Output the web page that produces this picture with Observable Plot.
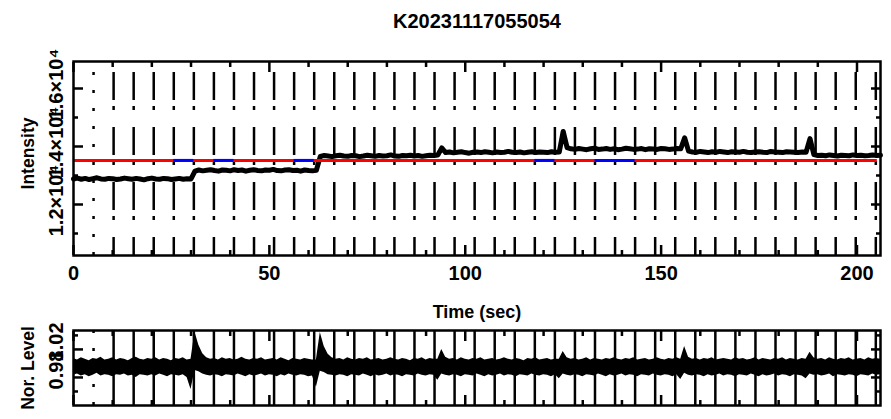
<!DOCTYPE html>
<html><head><meta charset="utf-8">
<script src="https://cdn.jsdelivr.net/npm/d3@7"></script>
<script src="https://cdn.jsdelivr.net/npm/@observablehq/plot@0.6"></script>
<style>
body{margin:0;background:#fff;}
#wrap{position:relative;width:891px;height:419px;overflow:hidden;}
#top,#bot{position:absolute;left:0;}
#top{top:0;} #bot{top:325px;}
svg{overflow:visible;}
</style></head><body><div id="wrap"><div id="top"></div><div id="bot"></div></div>
<script>
const title = "K20231117055054";
const xLabel = "Time (sec)";
const yLabelTop = "Intensity";
const yLabelBot = "Nor. Level";
const xTickLabels = [0, 50, 100, 150, 200];
const xMinorTicks = [10,20,30,40,60,70,80,90,110,120,130,140,160,170,180,190];
const yMajorTop = [12000, 14000, 16000];
const yMinorTop = [11000, 13000, 15000];
const yTopLabels = ["1.2×10⁴", "1.4×10⁴", "1.6×10⁴"];
const yMajorBot = [0.98, 1.02];
const yMinorBot = [0.96, 1.00, 1.04];
const yBotLabels = ["0.98", "1.02"];
const threshold = 13520;
const thresholdEnd = 205.2;
const blueStart = [25.6, 35.84, 56.32, 117.76, 133.12];
const blueEnd = [30.72, 40.96, 61.44, 122.88, 143.36];
const gridDotted = [5.12];
const gridTimes = [10.24,15.36,20.48,25.6,30.72,35.84,40.96,46.08,51.2,56.32,61.44,66.56,71.68,76.8,81.92,87.04,92.16,97.28,102.4,107.52,112.64,117.76,122.88,128,133.12,138.24,143.36,148.48,153.6,158.72,163.84,168.96,174.08,179.2,184.32,189.44,194.56,199.68,204.8];
const sampleStep = 1; // seconds between samples
const intensity = [
12880,12910,12870,12900,12860,12890,12920,12880,12870,12900,12890,12860,12880,12910,12890,12870,12900,12880,12850,12890,12910,12880,12870,12900,12890,12860,12880,12900,12870,12890,12880,
13150,13190,13160,13180,13200,13170,13150,13190,13180,13160,13200,13170,13190,13150,13180,13200,13170,13160,13190,13180,13210,13170,13160,13190,13200,13170,13180,13150,13190,13170,13160,13180,
13660,13690,13670,13650,13680,13700,13670,13660,13690,13680,13650,13670,13700,13680,13660,13690,13670,13680,13710,13670,13660,13690,13680,13700,13670,13690,13660,13680,13700,13690,13710,
13950,13790,13810,13780,13800,13820,13790,13770,13800,13810,13790,13820,13800,13780,13810,13790,13800,13830,13800,13790,13810,13780,13800,13820,13790,13810,13800,13790,13820,13800,13810,
14520,13960,13920,13900,13930,13910,13890,13920,13940,13900,13910,13930,13900,13920,13890,13910,13940,13920,13900,13910,13930,13890,13920,13910,13900,13930,13920,13900,13910,13930,13920,
14300,13840,13810,13800,13830,13810,13790,13820,13800,13830,13810,13790,13820,13810,13800,13830,13800,13790,13810,13820,13800,13790,13830,13810,13800,13790,13820,13810,13800,13790,13810,13800,
14270,13720,13690,13700,13680,13710,13690,13670,13700,13690,13680,13710,13690,13700,13680,13690,13710,13690,13700];
const normUpper = [
1.007,1.005,1.008,1.006,1.004,1.007,1.006,1.009,1.005,1.006,
1.008,1.005,1.007,1.006,1.004,1.007,1.009,1.006,1.005,1.007,
1.006,1.008,1.005,1.007,1.006,1.004,1.007,1.006,1.008,1.005,
1.006,1.045,1.026,1.014,1.008,1.006,1.007,1.005,1.008,1.006,
1.007,1.005,1.006,1.009,1.006,1.005,1.007,1.006,1.008,1.005,
1.006,1.007,1.005,1.008,1.006,1.004,1.007,1.006,1.005,1.007,
1.006,1.005,1.005,1.044,1.024,1.013,1.008,1.006,1.007,1.005,
1.008,1.006,1.005,1.007,1.006,1.008,1.005,1.006,1.007,1.005,
1.006,1.008,1.006,1.005,1.007,1.006,1.004,1.007,1.006,1.008,
1.005,1.007,1.006,1.006,1.020,1.009,1.006,1.007,1.005,1.008,
1.006,1.005,1.007,1.006,1.008,1.005,1.006,1.007,1.005,1.006,
1.008,1.006,1.005,1.007,1.006,1.004,1.007,1.006,1.008,1.005,
1.006,1.007,1.005,1.006,1.006,1.017,1.008,1.006,1.007,1.005,
1.006,1.008,1.005,1.007,1.006,1.005,1.007,1.006,1.008,1.006,
1.005,1.007,1.006,1.008,1.005,1.006,1.007,1.005,1.006,1.008,
1.006,1.005,1.007,1.006,1.008,1.006,1.024,1.009,1.006,1.007,
1.005,1.007,1.006,1.008,1.005,1.006,1.007,1.006,1.005,1.008,
1.006,1.007,1.005,1.006,1.008,1.005,1.007,1.006,1.005,1.007,
1.006,1.008,1.005,1.007,1.006,1.005,1.007,1.006,1.016,1.008,
1.006,1.007,1.005,1.008,1.006,1.005,1.007,1.006,1.008,1.005,
1.006,1.007,1.005,1.008,1.006,1.007,1.006];
const normLower = [
0.983,0.985,0.982,0.984,0.981,0.983,0.986,0.982,0.984,0.983,
0.981,0.984,0.983,0.985,0.982,0.983,0.980,0.984,0.983,0.982,
0.984,0.982,0.985,0.983,0.981,0.984,0.983,0.982,0.984,0.980,
0.963,0.990,0.988,0.985,0.983,0.982,0.984,0.983,0.981,0.984,
0.983,0.982,0.985,0.983,0.981,0.984,0.982,0.983,0.985,0.982,
0.984,0.983,0.981,0.984,0.982,0.985,0.983,0.982,0.984,0.983,
0.981,0.982,0.966,0.989,0.987,0.984,0.983,0.982,0.984,0.983,
0.981,0.984,0.983,0.982,0.985,0.983,0.981,0.984,0.982,0.983,
0.985,0.982,0.984,0.983,0.981,0.984,0.983,0.982,0.985,0.983,
0.982,0.984,0.983,0.976,0.985,0.983,0.982,0.984,0.983,0.981,
0.984,0.983,0.982,0.985,0.983,0.981,0.984,0.982,0.983,0.985,
0.982,0.984,0.983,0.981,0.984,0.983,0.982,0.985,0.983,0.982,
0.984,0.983,0.981,0.984,0.978,0.985,0.983,0.982,0.984,0.983,
0.981,0.984,0.983,0.982,0.985,0.983,0.981,0.984,0.982,0.983,
0.985,0.982,0.984,0.983,0.981,0.984,0.983,0.982,0.985,0.983,
0.982,0.984,0.983,0.981,0.984,0.977,0.986,0.983,0.982,0.984,
0.983,0.981,0.984,0.982,0.983,0.985,0.982,0.984,0.983,0.981,
0.984,0.983,0.982,0.985,0.983,0.981,0.984,0.982,0.983,0.985,
0.982,0.984,0.983,0.981,0.984,0.983,0.982,0.978,0.985,0.983,
0.984,0.982,0.983,0.985,0.981,0.984,0.983,0.982,0.984,0.983,
0.981,0.984,0.983,0.982,0.985,0.983,0.984];

const topData = intensity.map((v, i) => ({t: i * sampleStep, v}));
const botData = normUpper.map((u, i) => ({t: i * sampleStep, u, l: normLower[i]}));
const blue = blueStart.map((s, i) => ({x1: s, x2: blueEnd[i], y: threshold}));
const font = "'Liberation Sans', Arial, Helvetica, sans-serif";
const LW = 2.5;
const blank = () => "";

const topPlot = Plot.plot({
  width: 891, height: 325, marginLeft: 73, marginRight: 11, marginTop: 61, marginBottom: 70,
  x: {domain: [0, 206]}, y: {domain: [10241, 16931]},
  style: {fontFamily: font, fontWeight: "bold", color: "black", background: "transparent", overflow: "visible"},
  marks: [
    Plot.ruleX(gridDotted, {stroke: "black", strokeWidth: LW, strokeDasharray: "3 15", strokeDashoffset: 7}),
    Plot.ruleX(gridTimes, {stroke: "black", strokeWidth: LW, strokeDasharray: "28 6 4 17", strokeDashoffset: 44}),
    Plot.line(topData, {x: "t", y: "v", stroke: "black", strokeWidth: 5}),
    Plot.ruleY([{x1: 0, x2: thresholdEnd, y: threshold}], {x1: "x1", x2: "x2", y: "y", stroke: "#ff0000", strokeWidth: 3}),
    Plot.ruleY(blue, {x1: "x1", x2: "x2", y: "y", stroke: "#0000ff", strokeWidth: 3}),
    Plot.frame({stroke: "black", strokeWidth: LW}),
    Plot.axisX({anchor: "bottom", ticks: xMinorTicks, tickSize: -5, tickFormat: blank, strokeWidth: LW, label: null}),
    Plot.axisX({anchor: "top", ticks: xMinorTicks, tickSize: -5, tickFormat: blank, strokeWidth: LW, label: null}),
    Plot.axisX({anchor: "bottom", ticks: xTickLabels, tickSize: -10, tickFormat: blank, strokeWidth: LW, label: null}),
    Plot.axisX({anchor: "top", ticks: xTickLabels, tickSize: -10, tickFormat: blank, strokeWidth: LW, label: null}),
    Plot.axisX({anchor: "bottom", ticks: xTickLabels, tickSize: 0, tickPadding: 10, fontSize: 20, label: null}),
    Plot.axisY({anchor: "left", ticks: yMajorTop, tickSize: -10, tickFormat: blank, strokeWidth: LW, label: null}),
    Plot.axisY({anchor: "left", ticks: yMinorTop, tickSize: -5, tickFormat: blank, strokeWidth: LW, label: null}),
    Plot.axisY({anchor: "right", ticks: yMajorTop, tickSize: -10, tickFormat: blank, strokeWidth: LW, label: null}),
    Plot.axisY({anchor: "right", ticks: yMinorTop, tickSize: -5, tickFormat: blank, strokeWidth: LW, label: null}),
    Plot.text(yMajorTop, {y: d => d, text: (d, i) => yTopLabels[i], frameAnchor: "left", rotate: -90, lineAnchor: "bottom", textAnchor: "middle", dx: -11, dy: -4, fontSize: 20}),
    Plot.text([yLabelTop], {frameAnchor: "left", rotate: -90, lineAnchor: "bottom", textAnchor: "middle", dx: -40, dy: -5, fontSize: 17.5}),
    Plot.text([title], {frameAnchor: "top", lineAnchor: "bottom", dy: -34, fontSize: 20}),
    Plot.text([xLabel], {frameAnchor: "bottom", lineAnchor: "bottom", dy: 62, fontSize: 18})
  ]
});
document.getElementById("top").appendChild(topPlot);

const botPlot = Plot.plot({
  width: 891, height: 94, marginLeft: 73, marginRight: 11, marginTop: 5, marginBottom: 14,
  x: {domain: [0, 206]}, y: {domain: [0.94, 1.047]},
  style: {fontFamily: font, fontWeight: "bold", color: "black", background: "transparent", overflow: "visible"},
  marks: [
    Plot.ruleX(gridDotted, {stroke: "black", strokeWidth: LW, strokeDasharray: "3 15", strokeDashoffset: 0}),
    Plot.ruleX(gridTimes, {stroke: "black", strokeWidth: LW}),
    Plot.areaY(botData, {x: "t", y1: "l", y2: "u", fill: "black"}),
    Plot.frame({stroke: "black", strokeWidth: LW}),
    Plot.axisX({anchor: "bottom", ticks: xMinorTicks, tickSize: -5, tickFormat: blank, strokeWidth: LW, label: null}),
    Plot.axisX({anchor: "top", ticks: xMinorTicks, tickSize: -5, tickFormat: blank, strokeWidth: LW, label: null}),
    Plot.axisX({anchor: "bottom", ticks: xTickLabels, tickSize: -10, tickFormat: blank, strokeWidth: LW, label: null}),
    Plot.axisX({anchor: "top", ticks: xTickLabels, tickSize: -10, tickFormat: blank, strokeWidth: LW, label: null}),
    Plot.axisY({anchor: "left", ticks: yMajorBot, tickSize: -10, tickFormat: blank, strokeWidth: LW, label: null}),
    Plot.axisY({anchor: "left", ticks: yMinorBot, tickSize: -5, tickFormat: blank, strokeWidth: LW, label: null}),
    Plot.axisY({anchor: "right", ticks: yMajorBot, tickSize: -10, tickFormat: blank, strokeWidth: LW, label: null}),
    Plot.axisY({anchor: "right", ticks: yMinorBot, tickSize: -5, tickFormat: blank, strokeWidth: LW, label: null}),
    Plot.text(yMajorBot, {y: d => d, text: (d, i) => yBotLabels[i], frameAnchor: "left", rotate: -90, lineAnchor: "bottom", textAnchor: "middle", dx: -11, dy: -7.5, fontSize: 20}),
    Plot.text([yLabelBot], {frameAnchor: "left", rotate: -90, lineAnchor: "bottom", textAnchor: "middle", dx: -40, dy: 0, fontSize: 17.5})
  ]
});
document.getElementById("bot").appendChild(botPlot);
</script></body></html>
